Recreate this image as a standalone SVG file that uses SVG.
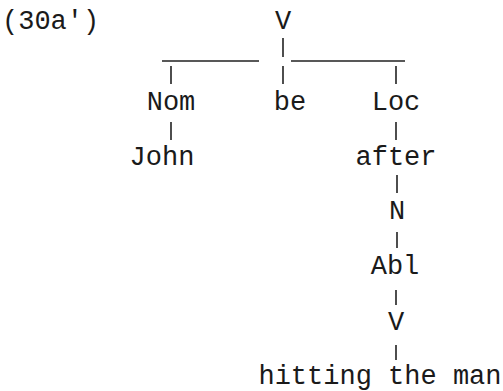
<svg xmlns="http://www.w3.org/2000/svg" width="503" height="391" viewBox="0 0 503 391">
<style>
text{font-family:"Liberation Mono","Courier New",monospace;font-size:27px;fill:#1a1a1a;text-anchor:middle}
.l{stroke:#222;stroke-width:1.6;fill:none}
</style>
<rect width="503" height="391" fill="#fff"/>
<text x="2" y="29" style="text-anchor:start">(30a′)</text>
<g id="n-v"><text x="283" y="29">V</text></g>
<g id="n-nom"><text x="171" y="110">Nom</text></g>
<g id="n-be"><text x="290" y="110">be</text></g>
<g id="n-loc"><text x="396" y="110">Loc</text></g>
<g id="n-john"><text x="162" y="165">John</text></g>
<g id="n-after"><text x="396" y="165">after</text></g>
<g id="n-n"><text x="397" y="219">N</text></g>
<g id="n-abl"><text x="395" y="274">Abl</text></g>
<g id="n-v2"><text x="396" y="330">V</text></g>
<g id="n-hit"><text x="380" y="384">hitting the man</text></g>
<g id="connectors" class="l">
<path d="M283 38V57M162 61H259M291 61H405M171 66V84M283 66V84M396 66V84M171 122V140M396 122V140M397 175V193M397 232V248M396 290V305M396 345V360"/>
</g>
</svg>
